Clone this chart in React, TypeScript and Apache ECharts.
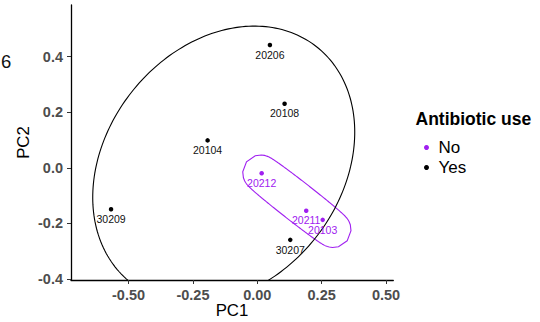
import React, { useEffect, useRef } from "react";
import * as echarts from "echarts";

// ---------- data ----------
const sampleIds = ["20206", "20108", "20104", "30209", "30207", "20212", "20211", "20103"];
const pc1 = [0.049, 0.106, -0.193, -0.568, 0.128, 0.017, 0.19, 0.254];
const pc2 = [0.442, 0.231, 0.099, -0.149, -0.259, -0.019, -0.154, -0.187];
const antibioticUse = ["Yes", "Yes", "Yes", "Yes", "Yes", "No", "No", "No"];
const groups = ["No", "Yes"];
const groupColors = ["#A020F0", "#000000"];
const xTicks = [-0.5, -0.25, 0, 0.25, 0.5];
const yTicks = [-0.4, -0.2, 0, 0.2, 0.4];

// axis limits
const X_MIN = -0.7235;
const X_MAX = 0.5282;
const Y_MIN = -0.4034;
const Y_MAX = 0.5862;

// style constants
const FONT = "'Liberation Sans', Arial, Helvetica, sans-serif";
const MARK_EXPAND_PX = 17.7;

// ---------- minimum-volume enclosing ellipse (Khachiyan) ----------
function inv3(m: number[][]): number[][] {
  const [a, b, c] = m[0];
  const [d, e, f] = m[1];
  const [g, h, i] = m[2];
  const A = e * i - f * h;
  const B = -(d * i - f * g);
  const C = d * h - e * g;
  const det = a * A + b * B + c * C;
  return [
    [A / det, -(b * i - c * h) / det, (b * f - c * e) / det],
    [B / det, (a * i - c * g) / det, -(a * f - c * d) / det],
    [C / det, -(a * h - b * g) / det, (a * e - b * d) / det],
  ];
}

function mvee(pts: number[][]) {
  const n = pts.length;
  const mx = pts.reduce((s, p) => s + p[0], 0) / n;
  const my = pts.reduce((s, p) => s + p[1], 0) / n;
  const P = pts.map((p) => [p[0] - mx, p[1] - my]);
  let u = new Array(n).fill(1 / n);
  for (let it = 0; it < 50000; it++) {
    const X = [
      [0, 0, 0],
      [0, 0, 0],
      [0, 0, 0],
    ];
    for (let k = 0; k < n; k++) {
      const q = [P[k][0], P[k][1], 1];
      for (let r = 0; r < 3; r++) for (let s = 0; s < 3; s++) X[r][s] += u[k] * q[r] * q[s];
    }
    const Xi = inv3(X);
    let best = -Infinity;
    let j = 0;
    for (let k = 0; k < n; k++) {
      const q = [P[k][0], P[k][1], 1];
      let m = 0;
      for (let r = 0; r < 3; r++) for (let s = 0; s < 3; s++) m += q[r] * Xi[r][s] * q[s];
      if (m > best) {
        best = m;
        j = k;
      }
    }
    const step = (best - 3) / (3 * (best - 1));
    if (!(step > 1e-12)) break;
    const nu = u.map((v) => v * (1 - step));
    nu[j] += step;
    let err = 0;
    for (let k = 0; k < n; k++) err += (nu[k] - u[k]) ** 2;
    u = nu;
    if (Math.sqrt(err) < 1e-10) break;
  }
  let cx = 0,
    cy = 0;
  for (let k = 0; k < n; k++) {
    cx += u[k] * P[k][0];
    cy += u[k] * P[k][1];
  }
  let sxx = 0,
    sxy = 0,
    syy = 0;
  for (let k = 0; k < n; k++) {
    sxx += u[k] * P[k][0] * P[k][0];
    sxy += u[k] * P[k][0] * P[k][1];
    syy += u[k] * P[k][1] * P[k][1];
  }
  sxx -= cx * cx;
  sxy -= cx * cy;
  syy -= cy * cy;
  return { cx: cx + mx, cy: cy + my, exx: 2 * sxx, exy: 2 * sxy, eyy: 2 * syy };
}

function expandedEllipse(pts: number[][], d: number, nSeg: number): number[][] {
  const e = mvee(pts);
  const p = e.exx,
    q = e.exy,
    r = e.eyy;
  const mid = (p + r) / 2;
  const rad = Math.sqrt(((p - r) / 2) ** 2 + q * q);
  const a = Math.sqrt(Math.max(mid + rad, 1e-9));
  const b = Math.sqrt(Math.max(mid - rad, 1e-9));
  const th = 0.5 * Math.atan2(2 * q, p - r);
  const c = Math.cos(th),
    s = Math.sin(th);
  const out: number[][] = [];
  for (let k = 0; k < nSeg; k++) {
    const t = (2 * Math.PI * k) / nSeg;
    const lx = a * Math.cos(t);
    const ly = b * Math.sin(t);
    let nx = Math.cos(t) / a;
    let ny = Math.sin(t) / b;
    const nl = Math.hypot(nx, ny);
    nx /= nl;
    ny /= nl;
    const ox = lx + d * nx;
    const oy = ly + d * ny;
    out.push([e.cx + c * ox - s * oy, e.cy + s * ox + c * oy]);
  }
  return out;
}

export default function App() {
  const ref = useRef<HTMLDivElement>(null);

  useEffect(() => {
    if (!ref.current) return;
    const chart = echarts.init(ref.current, null, { renderer: "svg" });

    const scatterSeries = groups.map((g, gi) => ({
      type: "scatter",
      name: g,
      data: pc1
        .map((x, i) => [x, pc2[i], sampleIds[i], antibioticUse[i]])
        .filter((d) => d[3] === g),
      symbolSize: 4.5,
      itemStyle: { color: groupColors[gi], opacity: 1 },
      label: {
        show: true,
        position: "bottom",
        distance: 2,
        formatter: (p: any) => p.value[2],
        color: gi === 0 ? groupColors[gi] : "#111111",
        fontSize: 10.5,
        fontFamily: FONT,
      },
      z: 4,
    }));

    const markSeries = groups.map((g, gi) => ({
      type: "custom",
      name: g + "-mark",
      clip: true,
      silent: true,
      data: [[0, 0]],
      renderItem: (_params: any, api: any) => {
        const pts: number[][] = [];
        for (let i = 0; i < pc1.length; i++) {
          if (antibioticUse[i] === g) pts.push(api.coord([pc1[i], pc2[i]]));
        }
        const ring = expandedEllipse(pts, MARK_EXPAND_PX, 240);
        return {
          type: "polygon",
          shape: { points: ring },
          style: { fill: "none", stroke: groupColors[gi], lineWidth: 1.1 },
        };
      },
      z: 2,
    }));

    const axisLabelBase = {
      color: "#4D4D4D",
      fontWeight: "bold",
      fontSize: 14.5,
      fontFamily: FONT,
    };

    const option: any = {
      animation: false,
      backgroundColor: "#ffffff",
      grid: {
        left: 71,
        right: 146.7,
        top: 5,
        bottom: 42,
        containLabel: false,
        outerBoundsMode: "none",
      },
      xAxis: {
        type: "value",
        min: X_MIN,
        max: X_MAX,
        axisLine: { show: true, onZero: false, lineStyle: { color: "#000", width: 1.3 } },
        axisTick: { show: true, length: 4, customValues: xTicks, lineStyle: { color: "#333", width: 1 } },
        axisLabel: {
          ...axisLabelBase,
          customValues: xTicks,
          margin: 7,
          formatter: (v: number) => v.toFixed(2),
        },
        splitLine: { show: false },
      },
      yAxis: {
        type: "value",
        min: Y_MIN,
        max: Y_MAX,
        axisLine: { show: true, onZero: false, lineStyle: { color: "#000", width: 1.3 } },
        axisTick: { show: true, length: 4, customValues: yTicks, lineStyle: { color: "#333", width: 1 } },
        axisLabel: {
          ...axisLabelBase,
          customValues: yTicks,
          margin: 8,
          formatter: (v: number) => v.toFixed(1),
        },
        splitLine: { show: false },
      },
      legend: {
        data: groups,
        orient: "vertical",
        left: 419,
        top: 132.5,
        itemWidth: 14,
        itemHeight: 5,
        itemGap: 0,
        icon: "circle",
        selectedMode: false,
        itemStyle: { opacity: 1 },
        textStyle: { fontSize: 17, color: "#000", fontFamily: FONT, lineHeight: 20 },
      },
      graphic: [
        {
          type: "text",
          x: 1,
          y: 61.7,
          style: {
            text: "6",
            fill: "#111",
            fontSize: 18.5,
            fontFamily: FONT,
            textAlign: "left",
            textVerticalAlign: "middle",
            align: "left",
            verticalAlign: "middle",
          },
        },
        {
          type: "text",
          x: 23.7,
          y: 142.5,
          rotation: Math.PI / 2,
          style: {
            text: "PC2",
            fill: "#000",
            fontSize: 16.8,
            fontFamily: FONT,
            textAlign: "center",
            textVerticalAlign: "middle",
            align: "center",
            verticalAlign: "middle",
          },
        },
        {
          type: "text",
          x: 232,
          y: 310,
          style: {
            text: "PC1",
            fill: "#000",
            fontSize: 16.8,
            fontFamily: FONT,
            textAlign: "center",
            textVerticalAlign: "middle",
            align: "center",
            verticalAlign: "middle",
          },
        },
        {
          type: "text",
          x: 415.5,
          y: 119,
          style: {
            text: "Antibiotic use",
            fill: "#000",
            fontSize: 17.5,
            fontWeight: "bold",
            fontFamily: FONT,
            textAlign: "left",
            textVerticalAlign: "middle",
            align: "left",
            verticalAlign: "middle",
          },
        },
      ],
      series: [...markSeries, ...scatterSeries],
    };

    chart.setOption(option);
    return () => chart.dispose();
  }, []);

  return (
    <div
      ref={ref}
      style={{ position: "fixed", left: 0, top: 0, width: 540, height: 322, background: "#fff" }}
    />
  );
}
